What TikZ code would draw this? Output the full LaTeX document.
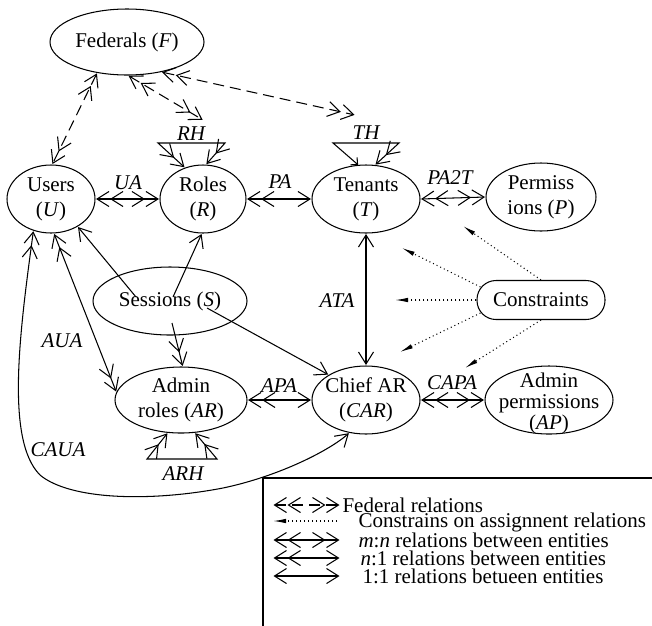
\documentclass[tikz,border=0pt]{standalone}
\usepackage{fontspec}
\setmainfont{Liberation Serif}
\usetikzlibrary{arrows.meta,shapes.geometric}

\tikzset{
  opv/.tip={Straight Barb[length=12pt,width=15pt,sep=0.5pt]},
  small/.tip={Straight Barb[length=5pt,width=10pt]},
  cone/.tip={Latex[length=13pt,width=4.5pt]},
  mn/.style={arrows={{opv[]opv}-{opv[]opv}}},
  n1/.style={arrows={{opv[]opv}-{opv}}},
  oo/.style={arrows={{opv}-{opv}}},
  to1/.style={arrows={-{opv}}},
  to2/.style={arrows={-{opv[]opv}}},
  fed/.style={mn, dash pattern=on 11pt off 6pt},
  cons/.style={arrows={-{cone}}, dash pattern=on 1pt off 3pt},
  ent/.style 2 args={draw, ellipse, minimum width=#1pt, minimum height=#2pt},
  txt/.style={align=center},
  lab/.style={font=\fontsize{21}{25}\selectfont\itshape},
  leg/.style={anchor=base west},
}

\begin{document}
\begin{tikzpicture}[x=1pt, y=-1pt, line width=1.05pt,
  every node/.style={font=\fontsize{21}{25}\selectfont, inner sep=0pt}]
\useasboundingbox (0,0) rectangle (652,625);

% entities
\node[ent={154}{66}] (F) at (127,42) {};
\node (Ft) at (F) {Federals (\textit{F})};
\node[ent={88}{68}] (U) at (51,199) {};
\node[txt] (Ut) at (U) {Users\\(\textit{U})};
\node[ent={86}{68}] (R) at (203,199) {};
\node[txt] (Rt) at (R) {Roles\\(\textit{R})};
\node[ent={108}{68}] (T) at (366,199) {};
\node[txt] (Tt) at (T) {Tenants\\(\textit{T})};
\node[ent={110}{68}] (P) at (541,197) {};
\node[txt] (Pt) at (P) {Permiss\\ions (\textit{P})};
\node[ent={154}{68}] (S) at (170,301) {};
\node (St) at (S) {Sessions (\textit{S})};
\node[draw, rounded corners=19pt, minimum width=128pt, minimum height=39pt] (C) at (541,300) {Constraints};
\node[ent={132}{66}] (AR) at (181,400) {};
\node[txt] (ARt) at (AR) {Admin\\roles (\textit{AR})};
\node[ent={108}{68}] (CAR) at (366,400) {};
\node[txt] (CARt) at (CAR) {Chief AR\\(\textit{CAR})};
\node[ent={128}{68}] (AP) at (549,400) {};
\node[txt, font=\fontsize{21}{21}\selectfont] (APt) at (549,403) {Admin\\permissions\\(\textit{AP})};

% federal relations
\coordinate (fR) at (203,120);
\coordinate (fT) at (355,115);
\draw[fed] (F.226) -- (U.88);
\draw[fed] (F.272) -- (fR);
\draw[fed] (F.319) -- (fT);

% hierarchies
\coordinate (rh1) at (158,143);
\coordinate (rh2) at (225,143);
\draw[mn] (R.120) -- (rh1) -- (rh2) -- (R.85);
\node[lab] (lRH) at (191,134) {RH};

\coordinate (th1) at (333,143);
\coordinate (th2) at (399,143);
\draw[arrows={{small}-{opv[]opv}}] (T.103) -- (th1) -- (th2) -- (T.75);
\node[lab] (lTH) at (366,133) {TH};

\coordinate (ar1) at (147,459);
\coordinate (ar2) at (217,459);
\draw[mn] (AR.248) -- (ar1) -- (ar2) -- (AR.293);
\node[lab] (lARH) at (183,474) {ARH};

% assignment relations
\draw[mn] (U.east) -- (R.west);
\node[lab] (lUA) at (128,183) {UA};
\draw[n1] (R.east) -- (T.west);
\node[lab] (lPA) at (280,182) {PA};
\draw[mn] (T.east) -- (P.west);
\node[lab] (lPA2T) at (450,178) {PA2T};
\draw[oo] (T.south) -- (CAR.north);
\node[lab] (lATA) at (337,301) {ATA};
\draw[n1] (AR.east) -- (CAR.west);
\node[lab] (lAPA) at (279,386) {APA};
\draw[mn] (CAR.east) -- (AP.west);
\node[lab] (lCAPA) at (452,383) {CAPA};
\draw[mn] (U.275) -- (AR.173);
\node[lab] (lAUA) at (62,341) {AUA};
\draw[n1] (U.241) .. controls (20,330) and (5,440) .. (40,475)
  .. controls (70,500) and (150,502) .. (223,488)
  .. controls (280,476) and (330,450) .. (CAR.243);
\node[lab] (lCAUA) at (58,450) {CAUA};

% sessions
\coordinate (s1) at (136,297);
\coordinate (s2) at (173,297);
\coordinate (s3) at (172,323);
\coordinate (s4) at (207,308);
\draw[to1] (s1) -- (U.314);
\draw[to1] (s2) -- (R.268);
\draw[to2] (s3) -- (AR.87);
\draw[to1] (s4) -- (CAR.146);

% constraints
\coordinate (k1) at (463,226);
\coordinate (k2) at (402,248);
\coordinate (k3) at (395,300);
\coordinate (k4) at (400,352);
\coordinate (k5) at (465,368);
\draw[cons] (C.north) -- (k1);
\draw[cons] ([shift={(4pt,13pt)}]C.west) -- (k2);
\draw[cons] (C.west) -- (k3);
\draw[cons] ([shift={(4pt,-13pt)}]C.west) -- (k4);
\draw[cons] (C.south) -- (k5);

% legend
\draw (660,478) -- (263,478) -- (263,630);
\coordinate (l1a) at (273,505); \coordinate (l1b) at (340,505);
\coordinate (l2a) at (273,521); \coordinate (l2b) at (337,521);
\coordinate (l3a) at (273,540); \coordinate (l3b) at (340,540);
\coordinate (l4a) at (273,558); \coordinate (l4b) at (340,558);
\coordinate (l5a) at (273,576); \coordinate (l5b) at (340,576);
\draw[fed] (l1a) -- (l1b);
\draw[cons] (l2b) -- (l2a);
\draw[mn] (l3a) -- (l3b);
\draw[n1] (l4a) -- (l4b);
\draw[oo] (l5a) -- (l5b);
\node[leg] (t1) at (342,512) {Federal relations};
\node[leg] (t2) at (358,527) {Constrains on assignnent relations};
\node[leg] (t3) at (358,547) {\textit{m}:\textit{n} relations between entities};
\node[leg] (t4) at (360,565) {\textit{n}:1 relations between entities};
\node[leg] (t5) at (362,583) {1:1 relations betueen entities};
\end{tikzpicture}
\end{document}
